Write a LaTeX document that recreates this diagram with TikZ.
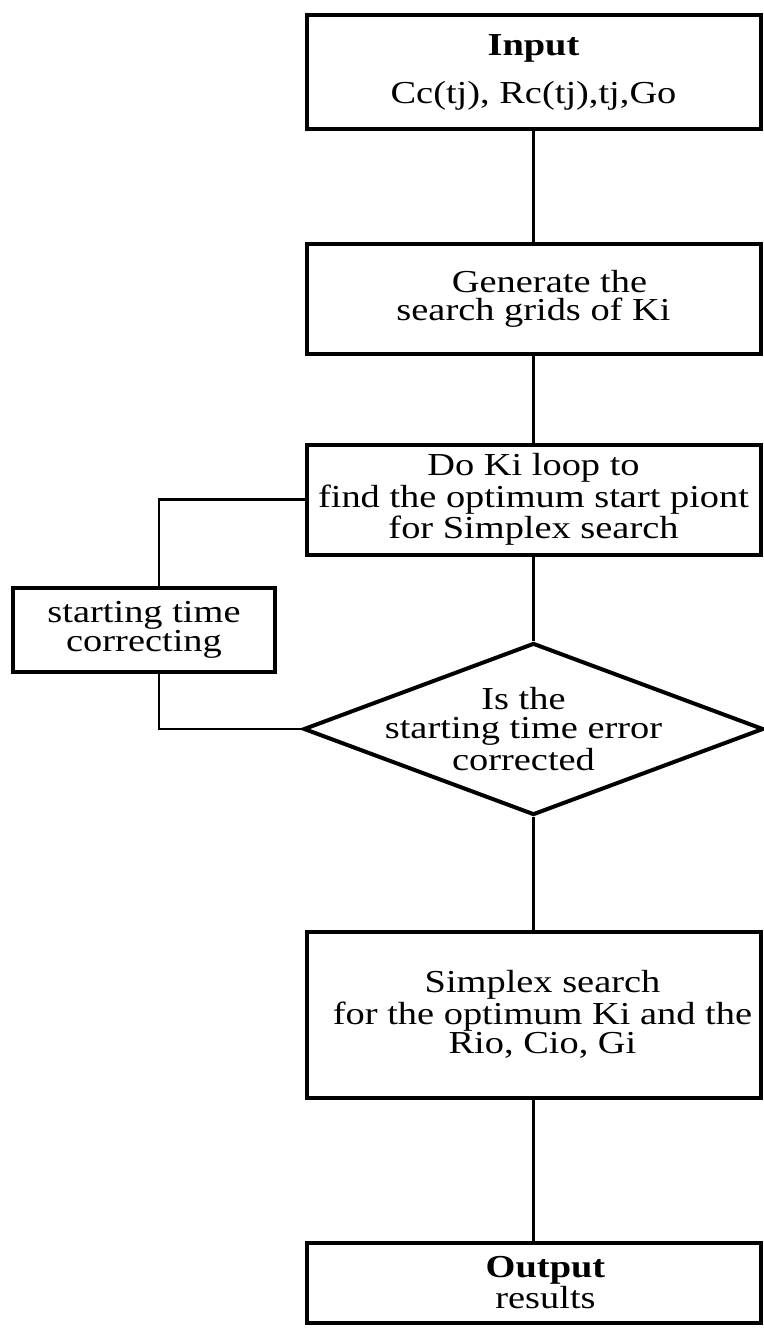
\documentclass[tikz,border=0pt]{standalone}
\usepackage{fontspec}
\setmainfont{Liberation Serif}[FakeStretch=1.2]
\usetikzlibrary{shapes.geometric}
\begin{document}
\begin{tikzpicture}[x=0.5pt,y=-0.5pt,
  box/.style={draw, line width=2pt, minimum width=227pt, align=center, inner sep=0pt, font=\fontsize{16}{14}\selectfont},
  conn/.style={line width=1.4pt},
  dtext/.style={align=center, inner sep=0pt, font=\fontsize{16}{14.5}\selectfont}]
\useasboundingbox (0,0) rectangle (764,1328);
\node[box, minimum height=57pt, font=\fontsize{16}{24}\selectfont] (b1) at (533.5,72) {\textbf{Input}\\Cc(tj), Rc(tj),tj,Go};
\node[box, minimum height=55pt, font=\fontsize{16}{14}\selectfont] (b2) at (533.5,298.5) {\hspace*{16pt}Generate the\\search grids of Ki};
\node[box, minimum height=55pt, font=\fontsize{16}{13.3}\selectfont] (b3) at (533.5,499.5) {Do Ki loop to\\find the optimum start piont\\for Simplex search};
\node[box, minimum width=131pt, minimum height=42pt, font=\fontsize{16}{14.5}\selectfont] (st) at (144,629.5) {starting time\\correcting};
\node[draw, shape=diamond, line width=2pt, minimum width=230pt, minimum height=86pt, inner sep=0pt] (d) at (533.5,729) {};
\node[dtext, xshift=-5pt] (dt) at (d.center) {Is the\\starting time error\\corrected};
\node[box, minimum height=83pt, font=\fontsize{16}{14.5}\selectfont] (b5) at (533.5,1014.5) {\hspace*{9pt}Simplex search\\\hspace*{9pt}for the optimum Ki and the\\\hspace*{9pt}Rio, Cio, Gi};
\node[box, minimum height=40pt, font=\fontsize{16}{11}\selectfont] (b6) at (533.5,1283) {\hspace*{12pt}\textbf{Output}\\\hspace*{12pt}results};
\coordinate (lx) at (159,0);
\draw[conn] (b1) -- (b2);
\draw[conn] (b2) -- (b3);
\draw[conn] (b3) -- (d);
\draw[conn] (d) -- (b5);
\draw[conn] (b5) -- (b6);
\draw[conn] (b3.west) -| (st.north -| lx);
\draw[conn] (st.south -| lx) |- (d.west);
\end{tikzpicture}
\end{document}
